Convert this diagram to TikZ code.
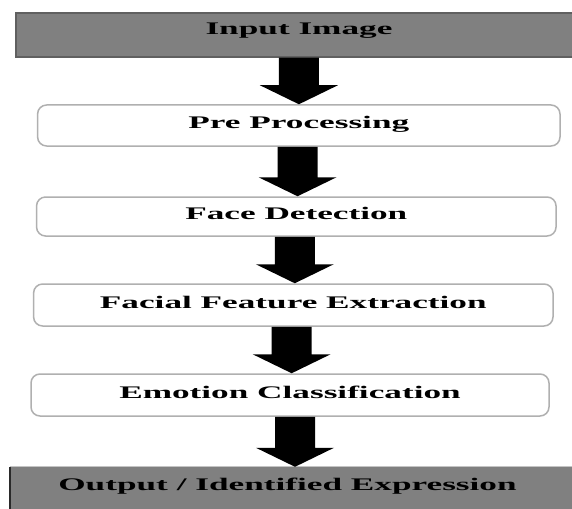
\documentclass[tikz,border=0pt]{standalone}
\usepackage{fontspec}
\setmainfont{Liberation Serif}
\usepackage{graphicx}
\usetikzlibrary{calc}
\definecolor{headgray}{HTML}{808080}
\definecolor{headedge}{HTML}{606060}
\definecolor{stageedge}{HTML}{B0B0B0}
\definecolor{darkedge}{HTML}{2A2A2A}
\definecolor{lightedge}{HTML}{C4C4C4}
\newcommand{\bigtxt}[1]{\scalebox{1.99}[1]{\bfseries #1}}
\newcommand{\blockarrow}[2]{%
  \path let \p1=($(#1.south)!.5!(#2.north)$), \p2=(#1.south), \p3=(#2.north) in
    [fill=black]
    (\x1-20pt,\y2) -- (\x1+20pt,\y2) -- (\x1+20pt,\y3+19pt) -- (\x1+39pt,\y3+19pt)
    -- (\x1,\y3) -- (\x1-39pt,\y3+19pt) -- (\x1-20pt,\y3+19pt) -- cycle;}
\begin{document}
\begin{tikzpicture}[x=1pt,y=-1pt,
  txt/.style={font=\fontsize{17.7}{20}\selectfont, inner sep=0pt, text=black},
  stage/.style={txt, draw=stageedge, line width=1.5pt, rounded corners=9pt, fill=white,
    text height=12pt, text depth=6pt},
  endbox/.style={txt, fill=headgray}]
\useasboundingbox (0,0) rectangle (572,508);
\fill[white] (0,0) rectangle (572,508);
% boxes
\node[endbox, draw=headedge, line width=1.5pt, minimum width=566pt, minimum height=44pt,
  text height=12pt, text depth=12pt] (in) at (299,35) {\bigtxt{Input Image}};
\node[stage, minimum width=522.4pt, minimum height=41pt] (pre) at (298.8,125.5) {\bigtxt{Pre Processing}};
\node[stage, minimum width=519.5pt, minimum height=39pt] (face) at (296.3,216.5) {\bigtxt{Face Detection}};
\node[stage, minimum width=519.4pt, minimum height=42pt] (feat) at (293.3,305) {\bigtxt{Facial Feature Extraction}};
\node[stage, minimum width=518pt, minimum height=42pt] (emo) at (290,395) {\bigtxt{Emotion Classification}};
\node[endbox, minimum width=580pt, minimum height=53pt, text height=12pt, text depth=18pt]
  (out) at (300,493.5) {\bigtxt{Output / Identified Expression}\hspace*{25pt}};
\draw[lightedge, line width=1.2pt] (out.north west) -- (out.north east);
\draw[darkedge, line width=2pt] (out.north west) -- (out.south west);
% arrows
\blockarrow{in}{pre}
\blockarrow{pre}{face}
\blockarrow{face}{feat}
\blockarrow{feat}{emo}
\blockarrow{emo}{out}
\end{tikzpicture}
\end{document}
